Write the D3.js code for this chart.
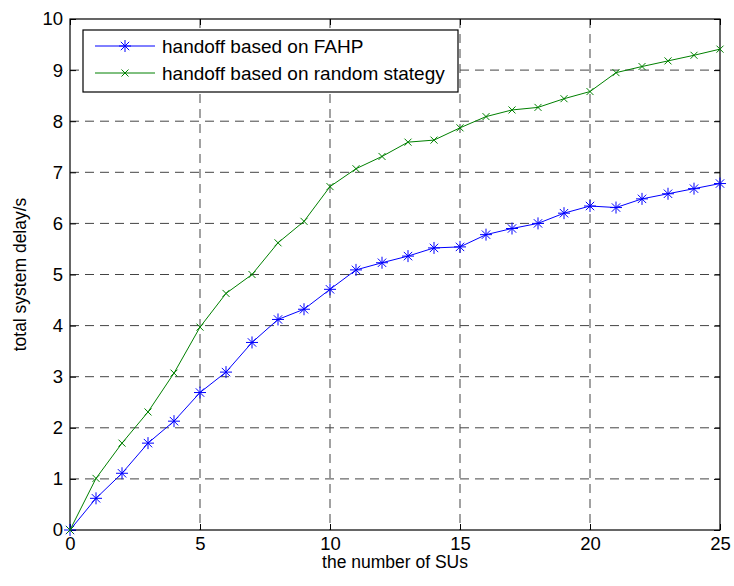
<!DOCTYPE html>
<html>
<head>
<meta charset="utf-8">
<script src="https://cdn.jsdelivr.net/npm/d3@7"></script>
<style>
  body { margin: 0; background: #fff; }
  text { font-family: "Liberation Sans", Arial, sans-serif; fill: #000; }
</style>
</head>
<body>
<div id="chart"></div>
<script>
  // number of SUs
  var suCounts = d3.range(0, 26);
  // delay values
  var fahpDelay = [0, 0.62, 1.11, 1.70, 2.13, 2.69, 3.09, 3.67, 4.12, 4.32, 4.71, 5.09, 5.23,
    5.36, 5.52, 5.54, 5.78, 5.90, 6.00, 6.20, 6.34, 6.31, 6.48, 6.58, 6.68, 6.78];
  var randomDelay = [0, 1.01, 1.70, 2.31, 3.07, 3.97, 4.63, 5.00, 5.62, 6.04, 6.72, 7.07, 7.31,
    7.59, 7.63, 7.87, 8.09, 8.22, 8.27, 8.44, 8.58, 8.95, 9.07, 9.18, 9.29, 9.41];
  var xTicks = [0, 5, 10, 15, 20, 25];
  var yTicks = [0, 1, 2, 3, 4, 5, 6, 7, 8, 9, 10];
  var legendLabels = ["handoff based on FAHP", "handoff based on random stategy"];

  var margin = {top: 19, right: 14, bottom: 56, left: 70},
    width = 734 - margin.left - margin.right,
    height = 586 - margin.top - margin.bottom;

  var x = d3.scaleLinear().domain([0, 25]).range([0, width]);
  var y = d3.scaleLinear().domain([0, 10]).range([height, 0]);

  var svg = d3.select("#chart").append("svg")
    .attr("width", 734)
    .attr("height", 586)
    .append("g")
    .attr("transform", "translate(" + margin.left + "," + margin.top + ")");

  // grid
  svg.append("g").selectAll("line")
    .data(xTicks.slice(1, -1))
    .enter().append("line")
    .attr("x1", function (d) { return x(d); })
    .attr("x2", function (d) { return x(d); })
    .attr("y1", 0).attr("y2", height)
    .attr("stroke", "#444").attr("stroke-dasharray", "9,6");
  svg.append("g").selectAll("line")
    .data(yTicks.slice(1, -1))
    .enter().append("line")
    .attr("y1", function (d) { return y(d); })
    .attr("y2", function (d) { return y(d); })
    .attr("x1", 0).attr("x2", width)
    .attr("stroke", "#444").attr("stroke-dasharray", "9,6");

  // axes, ticks inward on all four sides
  function styleAxis(g) {
    g.select(".domain").remove();
    g.selectAll(".tick line").attr("stroke", "#000");
    g.selectAll(".tick text").style("font-size", "18.5px")
      .style("font-family", "'Liberation Sans', Arial, sans-serif");
  }
  svg.append("g")
    .attr("transform", "translate(0," + height + ")")
    .call(d3.axisBottom(x).tickValues(xTicks).tickSizeInner(-6).tickPadding(7))
    .call(styleAxis);
  svg.append("g")
    .call(d3.axisTop(x).tickValues(xTicks).tickSizeInner(-6).tickFormat(""))
    .call(styleAxis);
  svg.append("g")
    .call(d3.axisLeft(y).tickValues(yTicks).tickSizeInner(-6).tickPadding(7))
    .call(styleAxis);
  svg.append("g")
    .attr("transform", "translate(" + width + ",0)")
    .call(d3.axisRight(y).tickValues(yTicks).tickSizeInner(-6).tickFormat(""))
    .call(styleAxis);

  svg.append("rect")
    .attr("width", width).attr("height", height)
    .attr("fill", "none").attr("stroke", "#000").attr("stroke-width", 1.2);

  var line = d3.line()
    .x(function (d) { return x(d[0]); })
    .y(function (d) { return y(d[1]); });

  function starPath(s) {
    var d = s * 0.7;
    return "M" + (-s) + ",0L" + s + ",0M0," + (-s) + "L0," + s +
      "M" + (-d) + "," + (-d) + "L" + d + "," + d + "M" + (-d) + "," + d + "L" + d + "," + (-d);
  }
  function crossPath(s) {
    return "M" + (-s) + "," + (-s) + "L" + s + "," + s + "M" + (-s) + "," + s + "L" + s + "," + (-s);
  }

  var series = [
    {values: fahpDelay, color: "#0000ff", marker: starPath(6)},
    {values: randomDelay, color: "#008000", marker: crossPath(3.5)}
  ];

  series.forEach(function (s) {
    var pts = suCounts.map(function (c, i) { return [c, s.values[i]]; });
    svg.append("path")
      .datum(pts)
      .attr("fill", "none")
      .attr("stroke", s.color)
      .attr("stroke-width", 1)
      .attr("d", line);
    svg.append("g").selectAll("path")
      .data(pts)
      .enter().append("path")
      .attr("transform", function (d) { return "translate(" + x(d[0]) + "," + y(d[1]) + ")"; })
      .attr("d", s.marker)
      .attr("stroke", s.color)
      .attr("fill", "none");
  });

  // legend
  var legend = svg.append("g").attr("transform", "translate(13,11)");
  legend.append("rect")
    .attr("width", 375).attr("height", 62)
    .attr("fill", "#fff").attr("stroke", "#000").attr("stroke-width", 1.2);
  series.forEach(function (s, i) {
    var ly = 16 + i * 27;
    legend.append("line")
      .attr("x1", 12).attr("x2", 72).attr("y1", ly).attr("y2", ly)
      .attr("stroke", s.color);
    legend.append("path")
      .attr("transform", "translate(42," + ly + ")")
      .attr("d", s.marker)
      .attr("stroke", s.color).attr("fill", "none");
    legend.append("text")
      .attr("x", 79).attr("y", ly)
      .attr("dy", "0.35em")
      .style("font-size", "19px")
      .text(legendLabels[i]);
  });

  // axis labels
  svg.append("text")
    .attr("x", width / 2).attr("y", height + 38)
    .attr("text-anchor", "middle")
    .style("font-size", "17.5px")
    .text("the number of SUs");
  svg.append("text")
    .attr("transform", "translate(-44," + (height / 2) + ") rotate(-90)")
    .attr("text-anchor", "middle")
    .style("font-size", "17.5px")
    .text("total system delay/s");
</script>
</body>
</html>
